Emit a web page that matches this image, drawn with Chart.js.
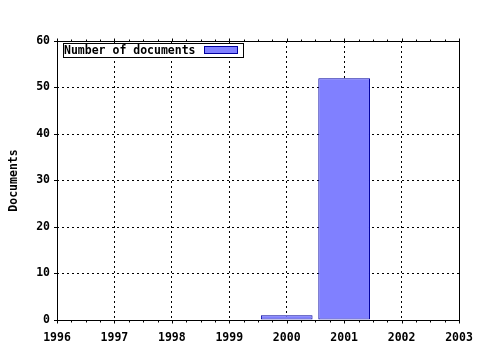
<!DOCTYPE html>
<html>
<head>
<meta charset="utf-8">
<script src="https://cdn.jsdelivr.net/npm/chart.js@4/dist/chart.umd.min.js"></script>
<style>
html,body{margin:0;padding:0;background:#fff;}
#wrap{width:480px;height:350px;position:relative;}
</style>
</head>
<body>
<div id="wrap"><canvas id="c" width="480" height="350"></canvas></div>
<script>
// Data
const years = [2000, 2001];
const documents = [1, 52];
const seriesLabel = 'Number of documents';
const xTickYears = [1996, 1997, 1998, 1999, 2000, 2001, 2002, 2003];
const yTicks = [0, 10, 20, 30, 40, 50, 60];
const yTitle = 'Documents';

const FONT = {family: '"DejaVu Sans Mono", monospace', size: 11.5, weight: 'bold'};
const FILL = 'rgb(128,128,255)';
const EDGE = 'rgb(0,0,160)';

const framePlugin = {
  id: 'frame',
  afterDraw(chart) {
    const {ctx, chartArea: a, scales} = chart;
    const x = scales.x;
    ctx.save();
    ctx.strokeStyle = '#000';
    ctx.lineWidth = 1;
    ctx.setLineDash([]);
    ctx.strokeRect(Math.round(a.left) + 0.5, Math.round(a.top) + 0.5,
                   Math.round(a.right - a.left), Math.round(a.bottom - a.top));
    // minor/major ticks on bottom and top axes
    ctx.beginPath();
    const first = xTickYears[0], last = xTickYears[xTickYears.length - 1];
    for (let v = first; v <= last + 1e-9; v += 0.25) {
      const px = Math.round(x.getPixelForValue(v)) + 0.5;
      const major = Math.abs(v - Math.round(v)) < 1e-9;
      const len = major ? 3 : 2;
      const b = Math.round(a.bottom) + 0.5, t = Math.round(a.top) + 0.5;
      ctx.moveTo(px, b); ctx.lineTo(px, b + len);
      ctx.moveTo(px, t); ctx.lineTo(px, t - len);
    }
    ctx.stroke();
    // legend: text then swatch, in a framed box
    const lx = 63, ly = 43, lw = 180, lh = 14;
    ctx.fillStyle = '#fff';
    ctx.fillRect(lx, ly, lw, lh);
    ctx.strokeRect(lx + 0.5, ly + 0.5, lw, lh);
    ctx.fillStyle = '#000';
    ctx.font = `${FONT.weight} ${FONT.size}px ${FONT.family}`;
    ctx.textBaseline = 'middle';
    ctx.textAlign = 'left';
    ctx.fillText(chart.data.datasets[0].label, lx + 1, ly + lh / 2 + 1);
    ctx.fillStyle = FILL;
    ctx.fillRect(204, 46, 33, 8);
    ctx.strokeStyle = EDGE;
    ctx.strokeRect(204.5, 46.5, 33, 7);
    ctx.restore();
  }
};

new Chart(document.getElementById('c'), {
  type: 'bar',
  data: {
    datasets: [{
      label: seriesLabel,
      data: years.map((y, i) => ({x: y, y: documents[i]})),
      backgroundColor: FILL,
      borderColor: EDGE,
      borderWidth: 1,
      borderSkipped: false,
      barPercentage: 0.9,
      categoryPercentage: 1.0
    }]
  },
  options: {
    responsive: false,
    animation: false,
    layout: {padding: {top: 41, right: 21, bottom: 0, left: 0}},
    plugins: {legend: {display: false}, tooltip: {enabled: false}},
    scales: {
      x: {
        type: 'linear',
        offset: false,
        min: xTickYears[0],
        max: xTickYears[xTickYears.length - 1],
        afterBuildTicks(scale) { scale.ticks = xTickYears.map(v => ({value: v})); },
        afterFit(scale) { scale.height = 30; scale.paddingLeft = 0; scale.paddingRight = 0; },
        grid: {color: '#000', lineWidth: 1, tickLength: 3, drawTicks: false, offset: false},
        border: {display: false, dash: [2, 3]},
        ticks: {color: '#000', font: FONT, padding: 11, callback: v => String(v), maxRotation: 0, autoSkip: false}
      },
      y: {
        min: 0,
        max: 60,
        afterBuildTicks(scale) { scale.ticks = yTicks.map(v => ({value: v})); },
        afterFit(scale) { scale.width = 57; scale.paddingTop = 0; scale.paddingBottom = 0; },
        grid: {color: '#000', lineWidth: 1, tickLength: 3},
        border: {display: false, dash: [2, 3]},
        ticks: {color: '#000', font: FONT, padding: 4},
        title: {display: true, text: yTitle, color: '#000', font: FONT, padding: {top: 7, bottom: 0}}
      }
    }
  },
  plugins: [framePlugin]
});
</script>
</body>
</html>
